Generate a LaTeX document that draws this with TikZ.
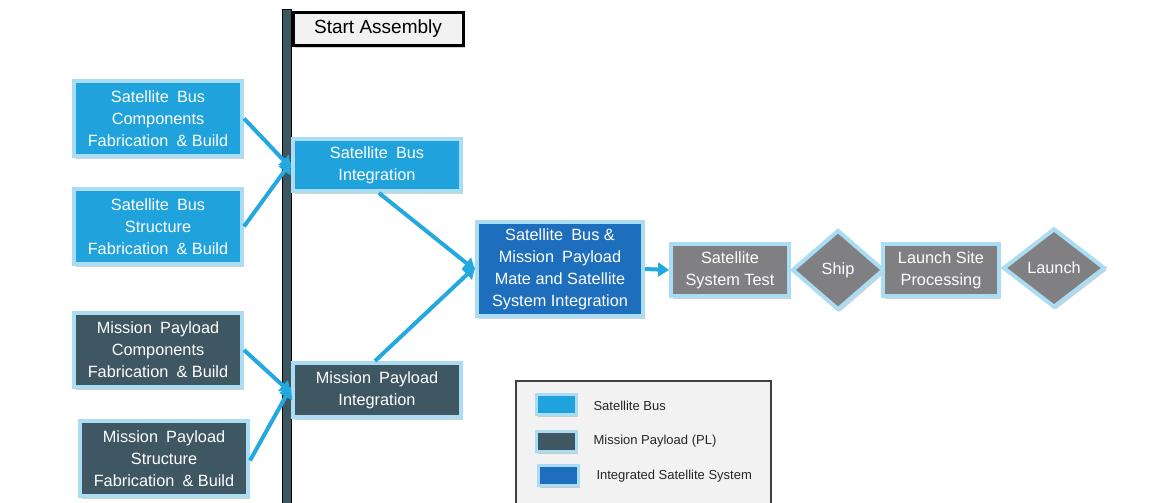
\documentclass[tikz,border=0pt]{standalone}
\usepackage{fontspec}
\setmainfont{Liberation Sans}
\usetikzlibrary{shapes.geometric,arrows.meta,shadows}
\definecolor{sbfill}{RGB}{32,163,221}
\definecolor{mpfill}{RGB}{62,87,99}
\definecolor{isfill}{RGB}{30,110,190}
\definecolor{grayfill}{RGB}{128,128,130}
\definecolor{lightedge}{RGB}{170,220,243}
\definecolor{arrowblue}{RGB}{35,168,224}
\definecolor{barfill}{RGB}{60,86,98}
\definecolor{legendbg}{RGB}{242,242,242}
\newcommand{\wsp}{\hspace{0.5em}}
\begin{document}
\begin{tikzpicture}[x=1pt,y=-1pt,
  shadowed/.style={drop shadow={opacity=0.35,shadow xshift=2pt,shadow yshift=-2.5pt}},
  box/.style={rectangle,draw=lightedge,line width=4pt,text=white,align=center,inner sep=2pt,
    font=\fontsize{16.3}{22}\selectfont,shadowed},
  sbbox/.style={box,fill=sbfill},
  mpbox/.style={box,fill=mpfill},
  isbox/.style={box,fill=isfill},
  graybox/.style={box,fill=grayfill},
  dia/.style={diamond,draw=lightedge,line width=4pt,fill=grayfill,text=white,inner sep=0pt,
    font=\fontsize{16.3}{22}\selectfont,shadowed},
  flow/.style={draw=arrowblue,line width=4pt,-{Triangle[length=11pt,width=14pt]}},
  swatch/.style={rectangle,draw=lightedge,line width=3pt,minimum width=40,minimum height=20,inner sep=0pt,shadowed},
  legtext/.style={anchor=west,font=\fontsize{13}{15}\selectfont,text=black!85}
]
\useasboundingbox (0,0) rectangle (1164,503);
\fill[white] (0,0) rectangle (1164,503);

% vertical bar
\draw[fill=barfill,draw=black,line width=1pt] (282,10) rectangle (291,506);

% start assembly
\node[rectangle,draw=black,line width=3pt,fill=legendbg,minimum width=170,minimum height=33,
  font=\fontsize{19}{22}\selectfont,shadowed] (start) at (378,29) {Start Assembly};

% satellite bus
\node[sbbox,minimum width=168,minimum height=75] (sbc) at (158,118.5)
  {Satellite\wsp Bus\\Components\\Fabrication\wsp\& Build};
\node[sbbox,minimum width=168,minimum height=75] (sbs) at (158,226.5)
  {Satellite\wsp Bus\\Structure\\Fabrication\wsp\& Build};
\node[sbbox,minimum width=168,minimum height=52] (sbi) at (377,165)
  {Satellite\wsp Bus\\Integration};

% mission payload
\node[mpbox,minimum width=168,minimum height=74] (mpc) at (158,350)
  {Mission\wsp Payload\\Components\\Fabrication\wsp\& Build};
\node[mpbox,minimum width=168,minimum height=75] (mps) at (164,458.5)
  {Mission\wsp Payload\\Structure\\Fabrication\wsp\& Build};
\node[mpbox,minimum width=168,minimum height=54] (mpi) at (377,390)
  {Mission\wsp Payload\\Integration};

% integrated
\node[isbox,minimum width=166,minimum height=94] (isi) at (560,269)
  {Satellite\wsp Bus \&\\Mission\wsp Payload\\Mate and Satellite\\System Integration};

% downstream
\node[graybox,minimum width=118,minimum height=52] (sst) at (730,270)
  {Satellite\\System Test};
\node[dia,minimum width=92,minimum height=80] (ship) at (838,270) {Ship};
\node[graybox,minimum width=116,minimum height=52] (lsp) at (941,270)
  {Launch Site\\Processing};
\node[dia,minimum width=102,minimum height=79] (launch) at (1054,268) {Launch};

% connectors
\draw[flow] (sbc.east) -- ([yshift=-3]sbi.west);
\draw[flow] (sbs.east) -- ([yshift=3]sbi.west);
\draw[flow] (mpc.east) -- ([yshift=-3]mpi.west);
\draw[flow] ([yshift=-2]mps.east) -- ([yshift=3]mpi.west);
\draw[flow] ([xshift=2]sbi.south) -- ([yshift=-1]isi.west);
\draw[flow] ([xshift=-2]mpi.north) -- ([yshift=2]isi.west);
\draw[flow] (isi.east) -- (sst.west);

% legend
\draw[fill=legendbg,draw=black!75,line width=1.2pt] (516,381) rectangle (771,506);
\node[swatch,fill=sbfill] (leg1) at (556,404) {};
\node[swatch,fill=mpfill] (leg2) at (556,441) {};
\node[swatch,fill=isfill] (leg3) at (558,475) {};
\node[legtext] (legt1) at (590,406) {Satellite Bus};
\node[legtext] (legt2) at (590,441) {Mission Payload (PL)};
\node[legtext] (legt3) at (593,476) {Integrated Satellite System};
\end{tikzpicture}
\end{document}
